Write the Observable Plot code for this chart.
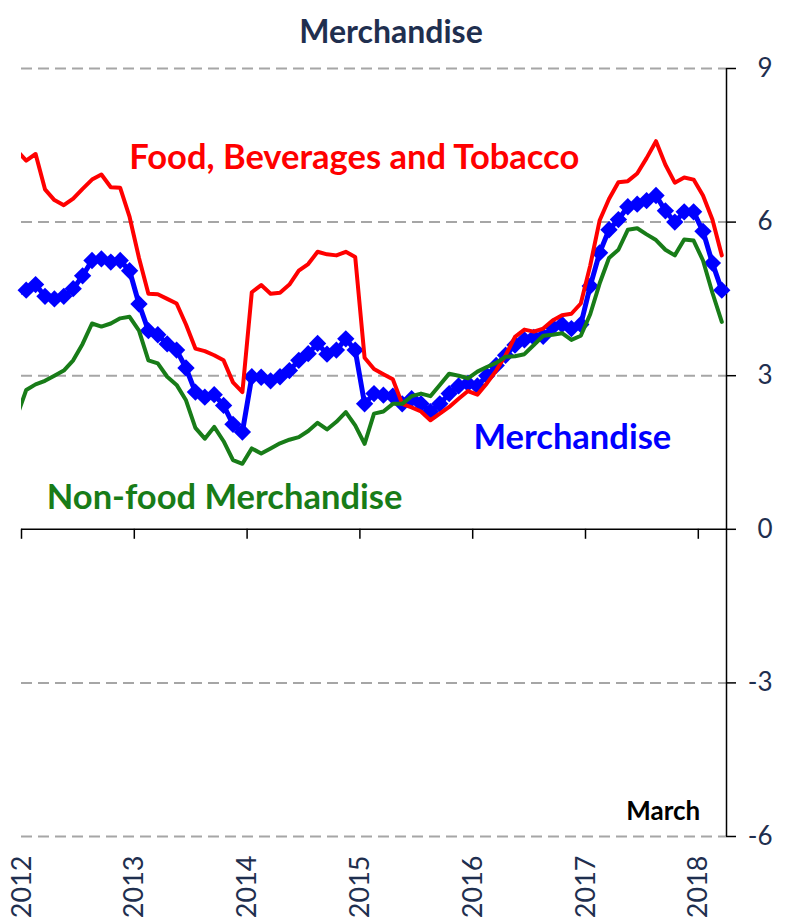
<!DOCTYPE html>
<html><head><meta charset="utf-8">
<script src="https://cdn.jsdelivr.net/npm/d3@7"></script>
<script src="https://cdn.jsdelivr.net/npm/@observablehq/plot@0.6"></script>
<style>html,body{margin:0;padding:0;background:#fff;} svg{display:block}</style>
</head><body><div id="chart"></div>
<script>
// Tick labels
const years = ["2012", "2013", "2014", "2015", "2016", "2017", "2018"];
const yTicks = [9, 6, 3, 0, -3, -6];
const gridValues = [9, 6, 3, -3, -6];

// Monthly series, Dec 2011 .. Mar 2018 (percent)
const food = [
  7.4,
  7.2, 7.33, 6.64, 6.43, 6.33, 6.46, 6.65, 6.83, 6.93, 6.68, 6.67, 6.1,
  5.3, 4.6, 4.59, 4.5, 4.41, 4.0, 3.53, 3.48, 3.4, 3.3, 2.87, 2.68,
  4.63, 4.77, 4.6, 4.62, 4.78, 5.05, 5.18, 5.42, 5.37, 5.35, 5.42, 5.32,
  3.35, 3.13, 3.03, 2.93, 2.45, 2.38, 2.3, 2.13, 2.26, 2.39, 2.55, 2.7,
  2.63, 2.85, 3.1, 3.4, 3.76, 3.9, 3.86, 3.92, 4.08, 4.18, 4.21, 4.41,
  5.15, 6.03, 6.45, 6.78, 6.8, 6.95, 7.25, 7.58, 7.12, 6.77, 6.87, 6.83,
  6.52, 6.05, 5.35
];
const merch = [
  4.6,
  4.67, 4.78, 4.55, 4.5, 4.55, 4.7, 4.95, 5.25, 5.28, 5.22, 5.25, 5.05,
  4.4, 3.88, 3.8, 3.62, 3.5, 3.15, 2.68, 2.58, 2.63, 2.42, 2.05, 1.9,
  2.98, 2.97, 2.9, 2.98, 3.1, 3.3, 3.43, 3.63, 3.42, 3.5, 3.72, 3.5,
  2.45, 2.65, 2.62, 2.6, 2.45, 2.55, 2.45, 2.3, 2.45, 2.65, 2.8, 2.85,
  2.8, 3.0, 3.2, 3.4, 3.6, 3.7, 3.75, 3.77, 3.95, 4.0, 3.92, 4.0,
  4.75, 5.4, 5.85, 6.05, 6.3, 6.35, 6.42, 6.52, 6.22, 6.0, 6.2, 6.2,
  5.82, 5.2, 4.67
];
const nonfood = [
  2.2,
  2.72, 2.83, 2.9, 3.0, 3.1, 3.3, 3.62, 4.02, 3.96, 4.02, 4.12, 4.15,
  3.88, 3.3, 3.24, 2.98, 2.82, 2.52, 1.98, 1.77, 2.0, 1.72, 1.35, 1.28,
  1.58, 1.48, 1.58, 1.68, 1.75, 1.8, 1.92, 2.08, 1.95, 2.1, 2.29, 2.03,
  1.67, 2.26, 2.3, 2.45, 2.45, 2.6, 2.65, 2.6, 2.82, 3.04, 3.0, 2.95,
  3.08, 3.17, 3.25, 3.37, 3.38, 3.42, 3.6, 3.78, 3.8, 3.83, 3.7, 3.78,
  4.2, 4.8, 5.3, 5.46, 5.85, 5.88, 5.76, 5.65, 5.46, 5.35, 5.66, 5.64,
  5.25, 4.62, 4.05
];

// Month labels Dec 2011 .. Mar 2018
const months = [];
for (let y = 2011; y <= 2018; y++) for (let m = 1; m <= 12; m++) {
  if ((y === 2011 && m < 12) || (y === 2018 && m > 3)) continue;
  months.push(`${y}-${String(m).padStart(2, "0")}`);
}
const pos = (s) => { const [y, m] = s.split("-").map(Number); return (y - 2012) * 12 + (m - 1) + 0.5; };
const rows = months.map((m, i) => ({t: pos(m), food: food[i], merch: merch[i], nonfood: nonfood[i]}));
const yearRows = years.map(y => ({t: (+y - 2012) * 12, label: y}));

const font = "Lato, 'Open Sans', sans-serif";
const navy = "#1f2f4f";
const red = "#ff0000", blue = "#0000ff", green = "#187c18";

const chart = Plot.plot({
  width: 786, height: 923,
  marginTop: 68, marginBottom: 87, marginLeft: 21, marginRight: 60,
  x: {domain: [0, 75], axis: null},
  y: {domain: [-6, 9], axis: null},
  style: {fontFamily: font, background: "white", overflow: "visible"},
  marks: [
    Plot.ruleY(gridValues, {stroke: "#a6a6a6", strokeWidth: 2, strokeDasharray: "11,6"}),
    Plot.ruleY([0], {stroke: "black", strokeWidth: 1.5}),
    Plot.ruleX(yearRows, {x: "t", y1: 0, y2: 0, insetBottom: -10, stroke: "black", strokeWidth: 1.5}),
    Plot.ruleX([75], {y1: -6, y2: 9, stroke: "black", strokeWidth: 1.5}),
    Plot.ruleY(yTicks, {y: d => d, x1: 75, x2: 75, insetRight: -10, stroke: "black", strokeWidth: 1.5}),
    Plot.text(yTicks, {x: 79.9, y: d => d, text: d => String(d), textAnchor: "end", fontSize: 26, fill: navy}),
    Plot.text(yearRows, {x: "t", text: "label", frameAnchor: "bottom", rotate: -90, textAnchor: "end", dx: 9, dy: 19, fontSize: 27, fill: navy}),
    Plot.line(rows, {x: "t", y: "merch", stroke: blue, strokeWidth: 5, clip: true}),
    Plot.dot(rows.filter(d => d.t > 0), {x: "t", y: "merch", symbol: "diamond2", r: 7.8, fill: blue}),
    Plot.line(rows, {x: "t", y: "food", stroke: red, strokeWidth: 4, clip: true}),
    Plot.line(rows, {x: "t", y: "nonfood", stroke: green, strokeWidth: 4, clip: true}),
    Plot.text(["Merchandise"], {frameAnchor: "top", dx: 17, dy: -48, fontSize: 32, fontWeight: "bold", fill: navy}),
    Plot.text(["Food, Beverages and Tobacco"], {x: 35.4, y: 7.25, fontSize: 34.5, fontWeight: "bold", fill: red}),
    Plot.text(["Merchandise"], {x: 58.6, y: 1.79, fontSize: 34.5, fontWeight: "bold", fill: blue}),
    Plot.text(["Non-food Merchandise"], {x: 21.6, y: 0.62, fontSize: 34.5, fontWeight: "bold", fill: green}),
    Plot.text(["March"], {x: 72.2, y: -5.51, textAnchor: "end", fontSize: 26, fontWeight: "bold", fill: "black"})
  ]
});
document.getElementById("chart").appendChild(chart);
</script>
</body></html>
